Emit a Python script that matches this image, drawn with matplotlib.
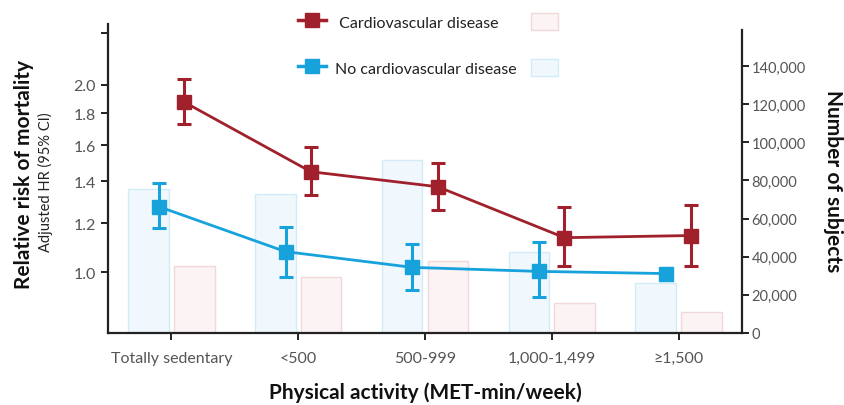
import matplotlib
matplotlib.use("Agg")
import matplotlib.pyplot as plt
from matplotlib.lines import Line2D
from matplotlib.patches import Patch
from matplotlib.ticker import FuncFormatter
import numpy as np

plt.rcParams['font.family'] = ['Lato', 'DejaVu Sans']

categories = ["Totally sedentary", "<500", "500-999", "1,000-1,499", "\u22651,500"]

# hazard ratios (95% CI)
cvd_hr = [1.875, 1.45, 1.372, 1.137, 1.146]
cvd_lo = [1.73, 1.33, 1.26, 1.026, 1.026]
cvd_hi = [2.04, 1.59, 1.50, 1.275, 1.284]

nocvd_hr = [1.275, 1.08, 1.019, 1.004, 0.996]
nocvd_lo = [1.18, 0.985, 0.936, 0.912, 0.996]
nocvd_hi = [1.39, 1.184, 1.11, 1.117, 0.996]

# number of subjects
cvd_n = [35100, 29400, 37800, 15700, 11000]
nocvd_n = [75500, 72900, 90700, 42500, 26200]

red = "#A0212B"
blue = "#17A2DC"
red_fill, red_edge = "#FCF3F4", "#F0D8DB"
blue_fill, blue_edge = "#F0F8FD", "#D3EBF7"
axis_col = "#222222"
tick_col = "#555555"

x = np.arange(len(categories))

fig = plt.figure(figsize=(8.45, 4.06), dpi=100)
ax = fig.add_axes([108/845, 72/406, 634/845, 309/406])
ax2 = ax.twinx()
ax.set_zorder(ax2.get_zorder() + 1)
ax.patch.set_visible(False)

# bars on the right axis
w = 0.32
ax2.bar(x - 0.18, nocvd_n, w, color=blue_fill, edgecolor=blue_edge, linewidth=1)
ax2.bar(x + 0.18, cvd_n, w, color=red_fill, edgecolor=red_edge, linewidth=1)
ax2.set_ylim(0, 162000)
ax2.set_yticks(np.arange(0, 140001, 20000))
ax2.yaxis.set_major_formatter(FuncFormatter(lambda v, p: f"{int(v):,}"))
ax2.spines['right'].set_bounds(0, 159000)

# hazard ratio lines on the left (log) axis
def err(hr, lo, hi):
    return [np.array(hr) - np.array(lo), np.array(hi) - np.array(hr)]

ax.errorbar(x + 0.1, cvd_hr, yerr=err(cvd_hr, cvd_lo, cvd_hi), color=red,
            marker="s", markersize=10, linewidth=2, elinewidth=2.2,
            capsize=5, capthick=2.2)
ax.errorbar(x - 0.1, nocvd_hr, yerr=err(nocvd_hr, nocvd_lo, nocvd_hi), color=blue,
            marker="s", markersize=10, linewidth=2, elinewidth=2.2,
            capsize=5, capthick=2.2)

ax.set_yscale("log")
ax.set_ylim(0.8, 2.5)
ax.set_xlim(-0.5, 4.5)
ax.set_yticks([1.0, 1.2, 1.4, 1.6, 1.8, 2.0, 2.42])
ax.set_yticklabels(["1.0", "1.2", "1.4", "1.6", "1.8", "2.0", ""])
ax.yaxis.set_minor_locator(plt.NullLocator())
ax.set_xticks(x)
ax.set_xticklabels(categories)

for a in (ax, ax2):
    a.spines['top'].set_visible(False)
    for s in a.spines.values():
        s.set_linewidth(1.6)
        s.set_color(axis_col)
    a.tick_params(colors=axis_col, labelcolor=tick_col, labelsize=11.5,
                  width=1.4, length=5)
ax.spines['right'].set_visible(False)
ax2.spines['left'].set_visible(False)
ax2.spines['bottom'].set_visible(False)
ax.tick_params(axis='x', pad=8)
ax2.tick_params(axis='y', pad=2, labelsize=10.5)

fig.text(0.028, 0.571, "Relative risk of mortality", rotation=90, ha="center",
         va="center", fontsize=15, fontweight="bold", color="#111111")
fig.text(0.054, 0.552, "Adjusted HR (95% CI)", rotation=90, ha="center",
         va="center", fontsize=10.5, color="#222222")
fig.text(0.986, 0.554, "Number of subjects", rotation=270, ha="center",
         va="center", fontsize=15, fontweight="bold", color="#111111")
fig.text(0.503, 0.032, "Physical activity (MET-min/week)", ha="center",
         va="center", fontsize=15, fontweight="bold", color="#111111")

handles = [
    Line2D([], [], color=red, marker="s", markersize=10, linewidth=2.5),
    Line2D([], [], color=blue, marker="s", markersize=10, linewidth=2.5),
    Patch(facecolor=red_fill, edgecolor=red_edge),
    Patch(facecolor=blue_fill, edgecolor=blue_edge),
]
labels = [" Cardiovascular disease", "No cardiovascular disease", "", ""]
fig.legend(handles, labels, ncol=2, frameon=False, fontsize=11.5,
           loc="upper left", bbox_to_anchor=(284/845, 1.002),
           handlelength=1.7, handleheight=1.3, columnspacing=0.9,
           labelspacing=1.8, handletextpad=0.6, labelcolor="#222222")

fig.savefig("out.png", dpi=100)
